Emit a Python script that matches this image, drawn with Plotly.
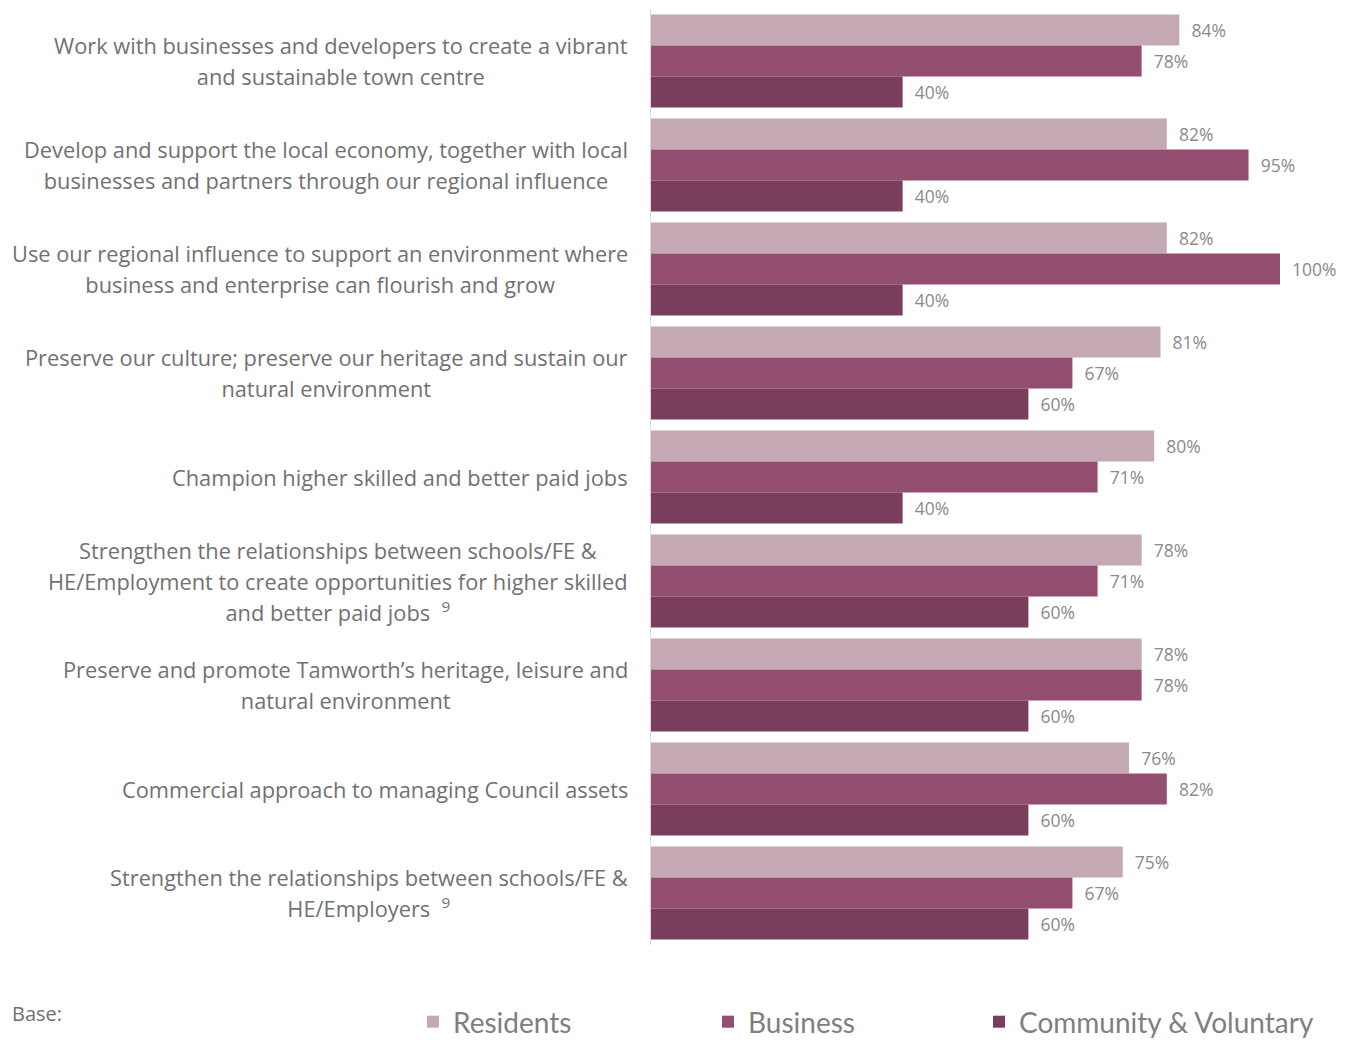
import plotly.graph_objects as go

categories = [
    "Work with businesses and developers to create a vibrant<br>and sustainable town centre",
    "Develop and support the local economy, together with local<br>businesses and partners through our regional influence",
    "Use our regional influence to support an environment where<br>business and enterprise can flourish and grow",
    "Preserve our culture; preserve our heritage and sustain our<br>natural environment",
    "Champion higher skilled and better paid jobs",
    "Strengthen the relationships between schools/FE &amp;<br>HE/Employment to create opportunities for higher skilled<br>and better paid jobs\u00a0\u00a0<sup>9</sup>",
    "Preserve and promote Tamworth\u2019s heritage, leisure and<br>natural environment",
    "Commercial approach to managing Council assets",
    "Strengthen the relationships between schools/FE &amp;<br>HE/Employers\u00a0\u00a0<sup>9</sup>",
]
residents = [84, 82, 82, 81, 80, 78, 78, 76, 75]
business = [78, 95, 100, 67, 71, 71, 78, 82, 67]
community = [40, 40, 40, 60, 40, 60, 60, 60, 60]

series = [
    ("Residents", residents, "#C4A8B3", "legend"),
    ("Business", business, "#944E70", "legend2"),
    ("Community & Voluntary", community, "#7A3D5C", "legend3"),
]

LABEL_FONT = "'Open Sans', Lato, sans-serif"
fig = go.Figure()
for name, vals, col, leg in series:
    fig.add_trace(go.Bar(
        name=name, x=vals, y=categories, orientation="h",
        marker=dict(color=col, line=dict(width=0)),
        text=[f"\u00a0\u00a0{v}%" for v in vals], textposition="outside",
        textfont=dict(family=LABEL_FONT, size=17.5, color="#8a8a8a"),
        cliponaxis=False, hoverinfo="skip", legend=leg,
    ))

annotations = []
for c in categories:
    lines = c.split("<br>")
    txt = "<br>".join(f"<span style='font-size:21.8px'>{l}</span>" for l in lines)
    annotations.append(dict(
        x=0, xref="paper", y=c, yref="y", xanchor="right", yanchor="middle",
        xshift=-21, text=txt, showarrow=False, align="center",
        font=dict(family=LABEL_FONT, size=24, color="#717171"),
    ))
annotations.append(dict(
    x=(10 - 651) / 690, xref="paper", y=(945 - 1013) / 936, yref="paper",
    xanchor="left", yanchor="middle", text="Base:", showarrow=False,
    font=dict(family=LABEL_FONT, size=20, color="#717171"),
))

legend_font = dict(family="Lato, sans-serif", size=28, color="#7f7f7f")
legend_common = dict(orientation="h", xanchor="left", y=(945 - 1022) / 936,
                     yanchor="middle", font=legend_font,
                     bgcolor="rgba(0,0,0,0)")

fig.update_layout(
    width=1351, height=1040,
    margin=dict(l=651, r=10, t=9, b=95, autoexpand=False),
    paper_bgcolor="white", plot_bgcolor="white",
    barmode="group", bargap=0.106, bargroupgap=0,
    xaxis=dict(range=[0, 690 / 629 * 100], showgrid=False, zeroline=False,
               showticklabels=False, ticks="", showline=False, fixedrange=True),
    yaxis=dict(autorange="reversed", showgrid=False, zeroline=False,
               showticklabels=False, ticks="", showline=True,
               linecolor="#d9d9d9", linewidth=1, fixedrange=True),
    showlegend=True,
    legend=dict(x=(413 - 651) / 690, **legend_common),
    legend2=dict(x=(708 - 651) / 690, **legend_common),
    legend3=dict(x=(979 - 651) / 690, **legend_common),
    annotations=annotations,
)

fig.write_html("out.html", config={"displayModeBar": False},
               post_script="document.body.style.margin='0';document.body.style.overflow='hidden';")
